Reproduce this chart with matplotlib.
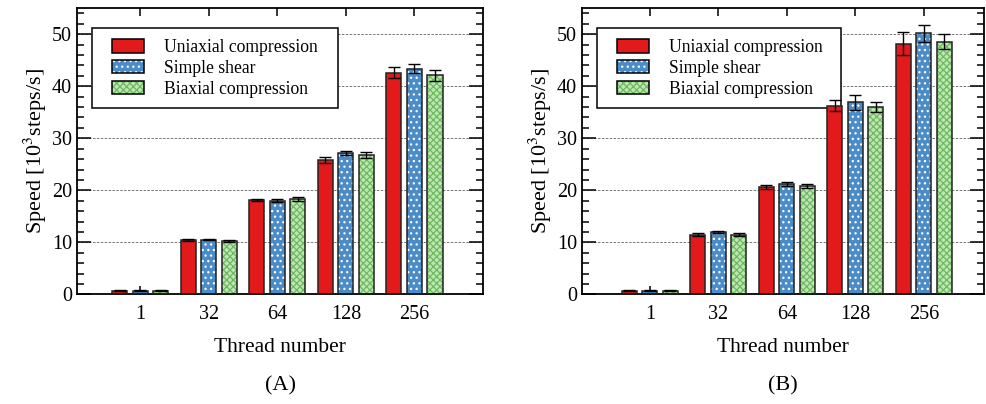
import numpy as np
import matplotlib.pyplot as plt
from matplotlib.patches import Patch, Rectangle
from matplotlib.legend_handler import HandlerTuple, HandlerPatch
from matplotlib.ticker import MultipleLocator, FixedLocator

plt.rcParams['font.family'] = ['Liberation Serif', 'DejaVu Serif']
plt.rcParams['mathtext.fontset'] = 'stix'
plt.rcParams['hatch.linewidth'] = 0.9

threads = ["1", "32", "64", "128", "256"]
series = ["Uniaxial compression", "Simple shear", "Biaxial compression"]

# panel A
speed_a = [
    [0.7, 10.4, 18.1, 25.8, 42.6],
    [0.7, 10.5, 18.0, 27.2, 43.4],
    [0.7, 10.3, 18.3, 26.8, 42.1],
]
err_a = [
    [0.05, 0.15, 0.25, 0.6, 1.1],
    [0.1, 0.1, 0.3, 0.4, 0.9],
    [0.05, 0.15, 0.35, 0.6, 1.0],
]
# panel B
speed_b = [
    [0.7, 11.5, 20.7, 36.3, 48.2],
    [0.7, 11.9, 21.2, 36.9, 50.2],
    [0.7, 11.5, 20.9, 36.0, 48.6],
]
err_b = [
    [0.05, 0.2, 0.4, 1.0, 2.2],
    [0.1, 0.2, 0.4, 1.5, 1.6],
    [0.05, 0.3, 0.4, 1.0, 1.4],
]

face = ["#e31a1c", "#4a8cc8", "#bfe6b4"]
hatch_col = [None, "white", "#6cba5e"]
hatches = [None, "...", "xxxxx"]

fig = plt.figure(figsize=(9.86, 4.04), dpi=100)
ax_a = fig.add_axes([0.0781, 0.2715, 0.4118, 0.708])
ax_b = fig.add_axes([0.5903, 0.2715, 0.4077, 0.708])

x = np.arange(len(threads))
offsets = [-0.3, 0.0, 0.3]
width = 0.22


def shifted_box(legend, orig_handle, xdescent, ydescent, width, height, fontsize):
    # leave some blank space before the swatch, like the original legend
    shift = width * 0.24
    return Rectangle((-xdescent + shift, -ydescent), width - shift, height)


def draw_panel(ax, speed, err, xlim, tag):
    handles = []
    for i in range(3):
        pos = x + offsets[i]
        if hatches[i] is None:
            ax.bar(pos, speed[i], width, color=face[i], edgecolor="none", zorder=2)
            fill = Patch(facecolor=face[i], edgecolor="none")
        else:
            ax.bar(pos, speed[i], width, color=face[i], edgecolor=hatch_col[i],
                   linewidth=0, hatch=hatches[i], zorder=2)
            fill = Patch(facecolor=face[i], edgecolor=hatch_col[i], linewidth=0, hatch=hatches[i])
        ax.bar(pos, speed[i], width, fill=False, edgecolor="#222222", linewidth=1.1, zorder=3)
        ax.errorbar(pos, speed[i], yerr=err[i], fmt="none", ecolor="black",
                    elinewidth=1, capsize=4, capthick=1, zorder=4)
        outline = Patch(facecolor="none", edgecolor="black", linewidth=1.1)
        handles.append((fill, outline))

    ax.set_xlim(*xlim)
    ax.set_ylim(0, 55)
    ax.set_xticks(x)
    ax.set_xticklabels(threads)
    ax.xaxis.set_minor_locator(FixedLocator([1, 3]))
    ax.yaxis.set_major_locator(MultipleLocator(10))
    ax.yaxis.set_minor_locator(MultipleLocator(2))
    ax.tick_params(axis="both", which="both", direction="in", top=True, right=True,
                   labelsize=14.5, width=1.1)
    ax.tick_params(axis="y", which="major", length=10)
    ax.tick_params(axis="y", which="minor", length=5)
    ax.tick_params(axis="x", which="major", length=6, pad=8)
    ax.tick_params(axis="x", which="minor", length=12)
    for s in ax.spines.values():
        s.set_linewidth(1.3)
    ax.grid(axis="y", which="major", linestyle=(0, (2.5, 1.5)), color="#777777",
            linewidth=0.7, zorder=0)
    ax.set_axisbelow(True)

    ax.set_xlabel("Thread number", fontsize=15.5, labelpad=10)
    ax.set_ylabel(r"Speed [10$^{3}$steps/s]", fontsize=16, labelpad=2)

    leg = ax.legend(handles, series,
                    handler_map={tuple: HandlerTuple(ndivide=1, pad=0),
                                 Patch: HandlerPatch(patch_func=shifted_box)},
                    loc="upper left", bbox_to_anchor=(0.037, 0.0, 0.606, 0.93),
                    mode="expand", fontsize=12.7,
                    fancybox=False, framealpha=1, edgecolor="black",
                    handlelength=2.33, handleheight=0.8, handletextpad=1.14,
                    borderpad=0.6, borderaxespad=0, labelspacing=0.22)
    leg.get_frame().set_linewidth(1.1)
    leg.set_zorder(1.5)

    ax.text(0.5, -0.32, tag, transform=ax.transAxes, ha="center", va="center",
            fontsize=16)


draw_panel(ax_a, speed_a, err_a, (-0.92, 5.0), "(A)")
draw_panel(ax_b, speed_b, err_b, (-0.99, 4.88), "(B)")

fig.savefig("out.png", dpi=100)
